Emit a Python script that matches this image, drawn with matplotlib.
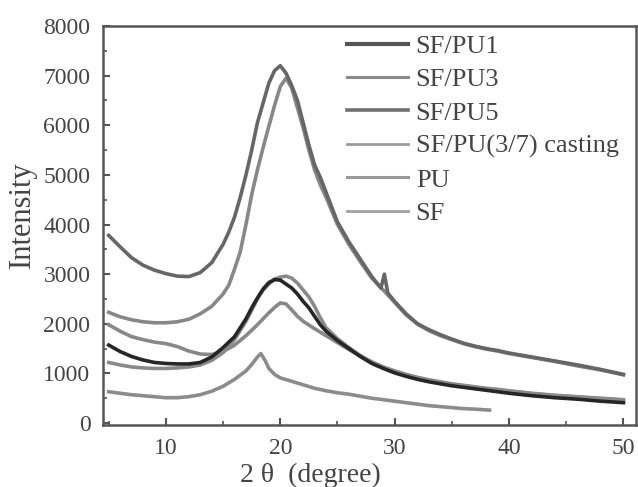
import matplotlib
matplotlib.use('Agg')
import matplotlib.pyplot as plt
from matplotlib.ticker import MultipleLocator

plt.rcParams['font.family'] = ['Liberation Serif', 'DejaVu Serif']

# SF/PU5 (top curve)
x_pu5 = [5, 6, 7, 8, 9, 10, 11, 12, 13, 14, 15, 15.5, 16, 16.5, 17, 17.5, 18, 18.5, 19, 19.5,
         20, 20.5, 21, 21.5, 22, 22.5, 23, 23.5, 24, 25, 26, 27, 28, 28.8, 29.1, 29.4, 30,
         31, 32, 33, 34, 35, 36, 37, 38, 39, 40, 42, 44, 46, 48, 50]
y_pu5 = [3780, 3550, 3330, 3180, 3080, 3010, 2960, 2950, 3030, 3230, 3600, 3850, 4150, 4550, 5000,
         5500, 6050, 6450, 6850, 7100, 7200, 7050, 6800, 6500, 6050, 5600, 5200, 4950, 4650, 4050,
         3650, 3300, 2950, 2720, 3000, 2620, 2450, 2200, 2000, 1880, 1780, 1690, 1610, 1550, 1500,
         1460, 1410, 1330, 1250, 1170, 1080, 980]

# SF/PU3
x_pu3 = [5, 6, 7, 8, 9, 10, 11, 12, 13, 14, 15, 15.5, 16, 16.5, 17, 17.5, 18, 18.5, 19, 19.5,
         20, 20.5, 21, 21.5, 22, 22.5, 23, 23.5, 24, 25, 26, 27, 28, 29, 30, 31, 32, 33, 34, 35,
         36, 37, 38, 39, 40, 42, 44, 46, 48, 50]
y_pu3 = [2230, 2140, 2080, 2040, 2020, 2020, 2040, 2090, 2200, 2350, 2600, 2780, 3100, 3450, 4000,
         4600, 5100, 5550, 5980, 6400, 6780, 6950, 6750, 6350, 5950, 5500, 5100, 4800, 4550, 4000,
         3600, 3250, 2920, 2680, 2430, 2180, 1990, 1860, 1760, 1680, 1600, 1540, 1490, 1450, 1400,
         1320, 1240, 1150, 1070, 970]

# SF/PU1 (black curve)
x_pu1 = [5, 6, 7, 8, 9, 10, 11, 12, 13, 14, 15, 16, 17, 17.5, 18, 18.5, 19, 19.5, 20, 20.5, 21,
         21.5, 22, 22.5, 23, 23.5, 24, 25, 26, 27, 28, 29, 30, 31, 32, 33, 34, 35, 36, 37, 38, 39,
         40, 42, 44, 46, 48, 50]
y_pu1 = [1570, 1440, 1340, 1270, 1220, 1200, 1190, 1190, 1220, 1330, 1520, 1740, 2100, 2320, 2520,
         2700, 2830, 2890, 2880, 2800, 2720, 2600, 2450, 2320, 2150, 1980, 1850, 1660, 1500, 1340,
         1200, 1100, 1010, 940, 880, 830, 790, 750, 720, 690, 660, 630, 600, 550, 510, 480, 440, 410]

# SF/PU(3/7) casting
x_cast = [5, 6, 7, 8, 9, 10, 11, 12, 13, 14, 15, 16, 17, 18, 19, 19.5, 20, 20.5, 21, 21.5, 22, 23,
          24, 25, 26, 27, 28, 29, 30, 31, 32, 33, 34, 35, 36, 37, 38, 39, 40, 42, 44, 46, 48, 50]
y_cast = [1980, 1850, 1740, 1680, 1630, 1600, 1540, 1450, 1390, 1380, 1440, 1570, 1760, 1980, 2220,
          2330, 2420, 2400, 2280, 2150, 2050, 1900, 1760, 1620, 1480, 1350, 1230, 1130, 1050, 980,
          920, 870, 830, 790, 760, 730, 700, 680, 650, 600, 560, 530, 500, 470]

# PU
x_pu = [5, 6, 7, 8, 9, 10, 11, 12, 13, 14, 15, 16, 17, 17.5, 18, 18.5, 19, 19.5, 20, 20.5, 21, 21.5,
        22, 22.5, 23, 23.5, 24, 25, 26, 27, 28, 29, 30, 31, 32, 33, 34, 35, 36, 37, 38, 39, 40, 42,
        44, 46, 48, 50]
y_pu = [1220, 1170, 1130, 1110, 1100, 1100, 1110, 1130, 1170, 1260, 1420, 1680, 2050, 2270, 2500,
        2680, 2800, 2900, 2940, 2960, 2920, 2820, 2680, 2540, 2350, 2120, 1920, 1700, 1520, 1360,
        1230, 1120, 1040, 970, 910, 860, 820, 780, 750, 720, 690, 660, 640, 590, 550, 520, 490, 460]

# SF
x_sf = [5, 6, 7, 8, 9, 10, 11, 12, 13, 14, 15, 16, 17, 17.5, 18, 18.3, 18.7, 19, 19.5, 20, 21, 22,
        23, 24, 25, 26, 27, 28, 29, 30, 31, 32, 33, 34, 35, 36, 37, 38.3]
y_sf = [630, 600, 570, 550, 530, 510, 510, 530, 570, 640, 740, 880, 1050, 1180, 1330, 1400, 1250,
        1100, 980, 910, 840, 770, 700, 650, 610, 580, 540, 500, 470, 440, 410, 380, 350, 330, 310,
        290, 280, 260]

fig = plt.figure(figsize=(6.38, 4.87), dpi=100)
ax = fig.add_axes([103/638, 62/487, 533/638, 399/487])

lw = 2.6
ax.plot(x_sf, y_sf, color='#8c8c8c', lw=lw, zorder=2)
ax.plot(x_cast, y_cast, color='#888888', lw=lw, zorder=2)
ax.plot(x_pu, y_pu, color='#8a8a8a', lw=lw, zorder=2)
ax.plot(x_pu3, y_pu3, color='#888888', lw=lw, zorder=3)
ax.plot(x_pu5, y_pu5, color='#666666', lw=lw, zorder=3)
ax.plot(x_pu1, y_pu1, color='#262626', lw=lw, zorder=4)

# legend in the original order
handles = []
for lab, col, w in [('SF/PU1', '#555555', 3.0), ('SF/PU3', '#8a8a8a', 2.2),
                    ('SF/PU5', '#707070', 2.6), ('SF/PU(3/7) casting', '#9a9a9a', 2.0),
                    ('PU', '#999999', 2.2), ('SF', '#a8a8a8', 2.2)]:
    h, = ax.plot([], [], color=col, lw=w, label=lab)
    handles.append(h)
ax.legend(handles=handles, loc='upper left', bbox_to_anchor=(0.458, 0.978), frameon=False,
          fontsize=19, handlelength=2.3, handletextpad=0.3, labelspacing=0.37,
          borderpad=0, borderaxespad=0, labelcolor='#444444')

ax.set_xlim(4.5, 51.1)
ax.set_ylim(-40, 8000)
ax.xaxis.set_major_locator(MultipleLocator(10))
ax.xaxis.set_minor_locator(MultipleLocator(5))
ax.yaxis.set_major_locator(MultipleLocator(1000))
ax.yaxis.set_minor_locator(MultipleLocator(500))
ax.tick_params(which='both', direction='in', colors='#555555', labelcolor='#444444',
               labelsize=17, top=False, right=False)
ax.tick_params(which='major', length=5, width=1.5, pad=9)
ax.tick_params(which='minor', length=3, width=1.2)
for s in ax.spines.values():
    s.set_color('#555555')
    s.set_linewidth(1.8)

fig.text(22/638, 1 - 215/487, 'Intensity', rotation=90, ha='center', va='center',
         fontsize=22, color='#444444')
fig.text(310/638, 5/487, '2 θ  (degree)', ha='center', va='baseline',
         fontsize=20, color='#444444')

fig.savefig('out.png', dpi=100)
